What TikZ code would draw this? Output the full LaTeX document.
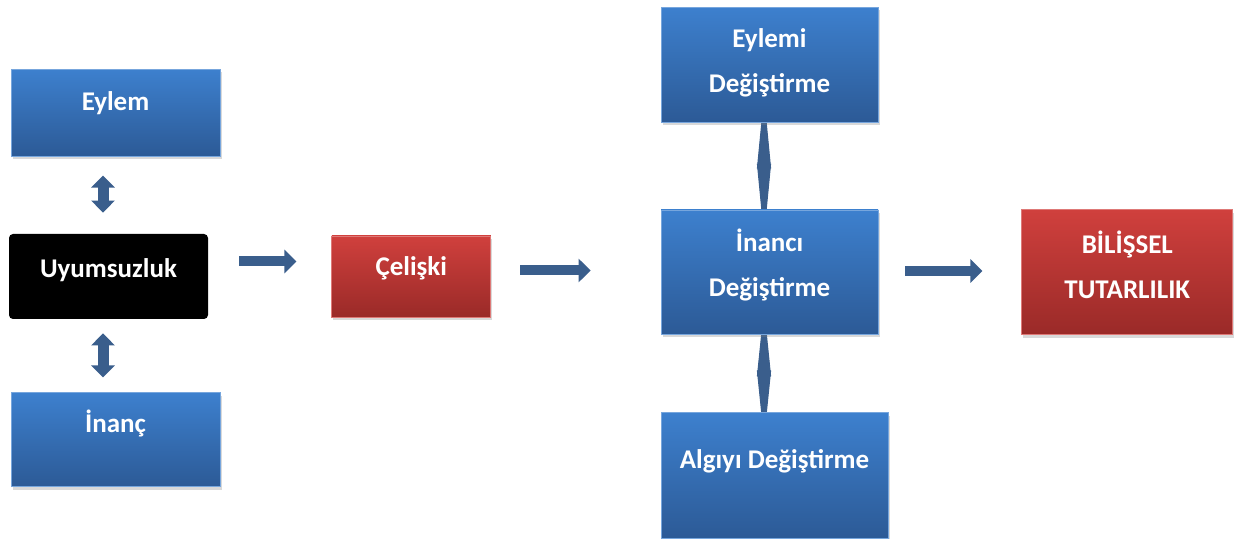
\documentclass[tikz,border=0pt]{standalone}
\usepackage{fontspec}
\setmainfont{Carlito}
\usetikzlibrary{positioning, shadows, arrows.meta, backgrounds}

\definecolor{boxtop}{RGB}{61,128,206}
\definecolor{boxbot}{RGB}{44,90,150}
\definecolor{redtop}{RGB}{208,64,61}
\definecolor{redbot}{RGB}{154,42,40}
\definecolor{arrowblue}{RGB}{58,94,140}

\tikzset{
    box/.style={rectangle, line width=0.4pt, drop shadow={shadow xshift=0.8pt, shadow yshift=-1.6pt, opacity=0.3}},
    bluebox/.style={box, top color=boxtop, bottom color=boxbot, draw=boxtop!70!white},
    redbox/.style={box, top color=redtop, bottom color=redbot, draw=redtop!70!white},
    txt/.style={text=white, font=\bfseries\fontsize{13.5}{22.5}\selectfont, align=center},
    fatarrow/.style={draw=arrowblue, line width=5pt, -{Triangle[length=6pt, width=11.5pt]}},
    dblarrow/.style={draw=arrowblue, line width=5.5pt, {Triangle[length=6pt, width=11.5pt]}-{Triangle[length=6pt, width=11.5pt]}},
    diamondarrow/.style={draw=arrowblue, line width=0.5pt, {Triangle[length=#1, width=7pt]}-{Triangle[length=#1, width=7pt]}, shorten <=-14pt, shorten >=-14pt}
}

\begin{document}
\begin{tikzpicture}[x=0.5pt, y=-0.5pt]
    \useasboundingbox (0,0) rectangle (1240,539);

    % left column
    \node[rectangle, fill=black, rounded corners=2pt, minimum width=99.5pt, minimum height=42.5pt, label={[txt, yshift=3pt]center:Uyumsuzluk}] (uyum) at (108.5,276.5) {};
    \node[bluebox, minimum width=104.5pt, minimum height=43.5pt, above=38.5pt of uyum, xshift=3.5pt, label={[txt, yshift=5pt]center:Eylem}] (eylem) {};
    \node[bluebox, minimum width=104.5pt, minimum height=47pt, below=36.5pt of uyum, xshift=3.5pt, label={[txt, yshift=8pt]center:İnanç}] (inanc) {};
    \node[redbox, minimum width=79.5pt, minimum height=40.5pt, right=61.5pt of uyum, label={[txt, yshift=4pt]center:Çelişki}] (celiski) {};

    % right column
    \node[bluebox, minimum width=108.5pt, minimum height=62pt, label={[txt, yshift=3.5pt]center:{İnancı\\Değiştirme}}] (inanci) at (769.5,272) {};
    \node[bluebox, minimum width=108.5pt, minimum height=57.5pt, above=43.5pt of inanci, label={[txt, yshift=1pt]center:{Eylemi\\Değiştirme}}] (eylemi) {};
    \node[bluebox, minimum width=113.5pt, minimum height=63pt, below=39pt of inanci, xshift=2.5pt, label={[txt, yshift=7.5pt]center:Algıyı Değiştirme}] (algi) {};
    \node[redbox, minimum width=105.5pt, minimum height=62.5pt, right=71.5pt of inanci, label={[txt, yshift=3.5pt]center:{BİLİŞSEL\\TUTARLILIK}}] (bilissel) {};

    \begin{scope}[on background layer]
        \draw[dblarrow, shorten <=9.5pt, shorten >=10.5pt] ([xshift=-6.25pt]eylem.south) -- ([xshift=-2.75pt]uyum.north);
        \draw[dblarrow, shorten <=7pt, shorten >=7.5pt] ([xshift=-2.75pt]uyum.south) -- ([xshift=-6.25pt]inanc.north);
        \draw[fatarrow, shorten <=15.5pt, shorten >=17.5pt] ([yshift=7.5pt]uyum.east) -- ([yshift=7.5pt]celiski.west);
        \draw[fatarrow, shorten <=14.5pt, shorten >=35pt] ([yshift=3pt]celiski.east) -- ([yshift=3pt]celiski.east -| inanci.west);
        \draw[fatarrow, shorten <=13.5pt, shorten >=19.5pt] ([yshift=0.5pt]inanci.east) -- ([yshift=0.5pt]inanci.east -| bilissel.west);
        \draw[diamondarrow=37pt] ([xshift=-2.75pt]eylemi.south) -- ([xshift=-2.75pt]inanci.north);
        \draw[diamondarrow=35pt] ([xshift=-2.75pt]inanci.south) -- ([xshift=-5.25pt]algi.north);
    \end{scope}
\end{tikzpicture}
\end{document}
